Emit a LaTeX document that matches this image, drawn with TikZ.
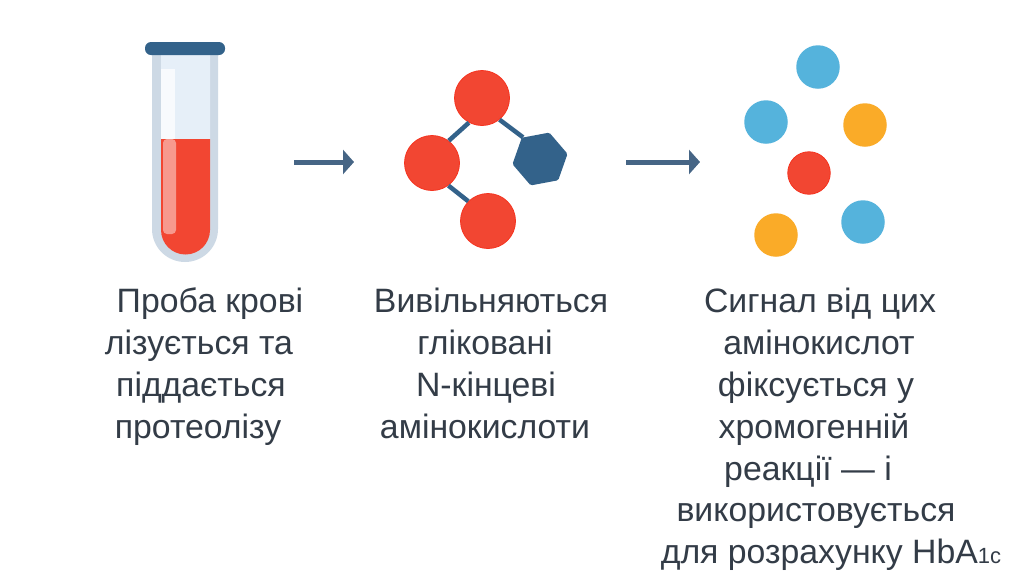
\documentclass[tikz,border=0pt]{standalone}
\usepackage{fontspec}
\setmainfont{Liberation Sans}
\usetikzlibrary{arrows.meta,shapes.geometric}
\definecolor{atomred}{HTML}{F24632}
\definecolor{atomedge}{HTML}{F5331F}
\definecolor{bondblue}{HTML}{33628A}
\definecolor{arrowblue}{HTML}{466585}
\definecolor{dotblue}{HTML}{55B3DC}
\definecolor{dotorange}{HTML}{FAAB28}
\definecolor{glass}{HTML}{CDD9E5}
\definecolor{glassin}{HTML}{E6EFF8}
\definecolor{textgray}{HTML}{333C47}
\begin{document}
\begin{tikzpicture}[x=1pt,y=-1pt]
\tikzstyle{atom}=[circle, draw=atomedge, fill=atomred, line width=0.8pt, inner sep=0pt, minimum size=55pt]
\tikzstyle{dot}=[circle, inner sep=0pt, minimum size=43.5pt]
\tikzstyle{bond}=[draw=bondblue, line width=4.5pt]
\tikzstyle{step arrow}=[draw=arrowblue, line width=5pt, -{Triangle[length=11pt,width=24pt,fill=arrowblue]}]
\tikzstyle{caption}=[anchor=base, inner sep=0pt, text=textgray, font=\fontsize{33.8}{38}\selectfont]
\useasboundingbox (0,0) rectangle (1024,579);
\fill [white] (0,0) rectangle (1024,579);

% tube
\fill [glass] (152,55) -- (152,229) arc [start angle=180, end angle=0, radius=33] -- (218,55) -- cycle;
\fill [glassin] (161,55) -- (161,229) arc [start angle=180, end angle=0, radius=24.5] -- (210,55) -- cycle;
\fill [atomred] (161,139) -- (161,230) arc [start angle=180, end angle=0, radius=24.5] -- (210,139) -- cycle;
\fill [white, opacity=0.75] (161,69) rectangle (175,139);
\fill [white, opacity=0.45, rounded corners=4pt] (163,139) -- (163,234) -- (176,234) -- (176,139) -- cycle;
\fill [bondblue, rounded corners=6pt] (145,42) rectangle (225,55);

% molecule
\node [atom] (top) at (482,98) {};
\node [atom] (left) at (432,163) {};
\node [atom] (low) at (488,221) {};
\node [regular polygon, regular polygon sides=6, shape border rotate=10.6, fill=bondblue, inner sep=0pt, minimum size=56pt, rounded corners=1.5pt] (hex) at (540,159) {};
\draw [bond] (top.242) -- (left.53);
\draw [bond] (top.309) -- (hex.128);
\draw [bond] (left.306) -- (low.135);

% dots
\foreach \name/\x/\y/\c in {da/818/67/dotblue,db/766/122/dotblue,dc/865/125/dotorange,dd/776/235/dotorange,de/863/222/dotblue} {
\node [dot, fill=\c] (\name) at (\x,\y) {};
}
\node [dot, fill=atomred, draw=atomedge, line width=0.8pt, minimum size=42.5pt] (mid) at (809,173) {};

% arrows
\coordinate (aa) at (294,162);
\coordinate (ab) at (354,162);
\coordinate (ba) at (626,162);
\coordinate (bb) at (700,162);
\draw [step arrow] (aa) -- (ab);
\draw [step arrow] (ba) -- (bb);

% text
\foreach \name/\x/\y/\t in {la/210/312/Проба крові,lb/199/354/лізується та,lc/201/396/піддається,ld/198/438/протеолізу,
ma/491/312/Вивільняються,mb/485/354/гліковані,mc/486/396/N-кінцеві,md/485/438/амінокислоти,
ra/820/312/Сигнал від цих,rb/819/354/амінокислот,rc/816/396/фіксується у,rd/814/438/хромогенній,re/808/480/реакції — і,rf/816/521/використовується} {
\node [caption] (\name) at (\x,\y) {\t};
}
\node [caption] (rg) at (831,563) {для розрахунку HbA{\fontsize{22}{24}\selectfont 1c}};
\end{tikzpicture}
\end{document}
